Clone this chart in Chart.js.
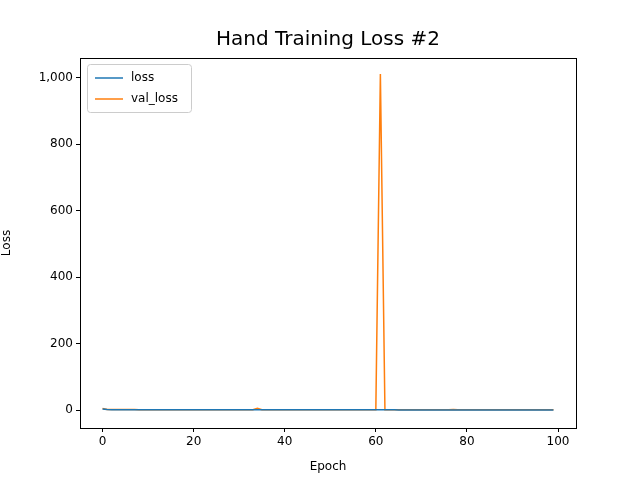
<!DOCTYPE html>
<html>
<head>
<meta charset="utf-8">
<script src="https://cdn.jsdelivr.net/npm/chart.js@4"></script>
<style>
  body { margin: 0; background: #fff; }
  #wrap { width: 640px; height: 480px; }
</style>
</head>
<body>
<div id="wrap"><canvas id="lossChart" width="640" height="480"></canvas></div>
<script>
// Epochs 0..99
const epochs = [
  0,1,2,3,4,5,6,7,8,9,10,11,12,13,14,15,16,17,18,19,
  20,21,22,23,24,25,26,27,28,29,30,31,32,33,34,35,36,37,38,39,
  40,41,42,43,44,45,46,47,48,49,50,51,52,53,54,55,56,57,58,59,
  60,61,62,63,64,65,66,67,68,69,70,71,72,73,74,75,76,77,78,79,
  80,81,82,83,84,85,86,87,88,89,90,91,92,93,94,95,96,97,98,99
];

const loss = [
  3.2,1.6,1.3,1.2,1.1,1.1,1.0,1.0,1.0,0.9,0.9,0.9,0.9,0.9,0.8,0.8,0.8,0.8,0.8,0.8,
  0.8,0.8,0.7,0.7,0.7,0.7,0.7,0.7,0.7,0.7,0.7,0.7,0.7,0.7,0.8,0.7,0.7,0.7,0.6,0.6,
  0.6,0.6,0.6,0.6,0.6,0.6,0.6,0.6,0.6,0.6,0.6,0.6,0.6,0.6,0.6,0.6,0.6,0.6,0.6,0.6,
  0.6,0.6,0.6,0.6,0.6,0.5,0.5,0.5,0.5,0.5,0.5,0.5,0.5,0.5,0.5,0.5,0.5,0.5,0.5,0.5,
  0.5,0.5,0.5,0.5,0.5,0.5,0.5,0.5,0.5,0.5,0.5,0.5,0.5,0.5,0.5,0.5,0.5,0.5,0.5,0.5
];

const valLoss = [
  4.5,2.0,1.8,1.6,1.5,1.5,1.4,1.4,1.3,1.3,1.3,1.2,1.3,1.2,1.2,1.2,1.1,1.2,1.1,1.1,
  1.1,1.1,1.1,1.0,1.1,1.0,1.0,1.0,1.0,1.0,1.0,1.0,1.1,1.0,5.0,1.2,1.0,1.0,1.0,0.9,
  0.9,0.9,0.9,0.9,0.9,0.9,0.9,0.9,0.9,0.9,0.9,0.9,0.9,0.9,0.9,0.9,0.9,0.9,0.9,0.9,
  0.9,1012,0.9,0.9,0.9,0.9,0.9,0.9,0.9,0.9,0.9,0.9,0.9,0.9,0.9,0.9,0.9,1.4,0.9,0.9,
  0.9,0.9,0.9,0.9,0.9,0.9,0.9,0.9,0.9,0.9,0.9,0.9,0.9,0.9,0.9,0.9,0.9,0.9,0.9,0.9
];

const yTicks = [0, 200, 400, 600, 800, 1000];
const xTicks = [0, 20, 40, 60, 80, 100];

const font = { family: "DejaVu Sans", size: 12 };

// frame + title + legend drawn like matplotlib
const decor = {
  id: "decor",
  afterDraw(chart) {
    const { ctx, chartArea: a } = chart;
    ctx.save();
    ctx.strokeStyle = "#000";
    ctx.lineWidth = 1;
    ctx.strokeRect(a.left + 0.5, a.top + 0.5, a.right - a.left, a.bottom - a.top);

    ctx.fillStyle = "#000";
    ctx.font = "20px 'DejaVu Sans'";
    ctx.textAlign = "center";
    ctx.textBaseline = "middle";
    ctx.fillText("Hand Training Loss #2", (a.left + a.right) / 2, 40);

    // legend box
    const lx = a.left + 7, ly = a.top + 6;
    ctx.fillStyle = "rgba(255,255,255,0.8)";
    ctx.strokeStyle = "#ccc";
    ctx.beginPath();
    ctx.roundRect(lx + 0.5, ly + 0.5, 104, 48, 3);
    ctx.fill();
    ctx.stroke();
    ctx.font = "12px 'DejaVu Sans'";
    ctx.textAlign = "left";
    chart.data.datasets.forEach((ds, i) => {
      const y = ly + 14 + i * 21;
      ctx.strokeStyle = ds.borderColor;
      ctx.lineWidth = 1.5;
      ctx.beginPath();
      ctx.moveTo(lx + 8, y);
      ctx.lineTo(lx + 36, y);
      ctx.stroke();
      ctx.fillStyle = "#000";
      ctx.fillText(ds.label, lx + 44, y);
    });
    ctx.restore();
  }
};

new Chart(document.getElementById("lossChart"), {
  type: "line",
  data: {
    datasets: [
      {
        label: "loss",
        data: epochs.map((e, i) => ({ x: e, y: loss[i] })),
        borderColor: "#1f77b4",
        borderWidth: 1.5,
        pointRadius: 0,
        tension: 0
      },
      {
        label: "val_loss",
        data: epochs.map((e, i) => ({ x: e, y: valLoss[i] })),
        borderColor: "#ff7f0e",
        borderWidth: 1.5,
        pointRadius: 0,
        tension: 0
      }
    ]
  },
  options: {
    responsive: false,
    animation: false,
    layout: { padding: { top: 58, right: 64, bottom: 6, left: 0 } },
    plugins: { legend: { display: false }, title: { display: false }, tooltip: { enabled: false } },
    scales: {
      x: {
        type: "linear",
        min: -4.95,
        max: 103.95,
        afterBuildTicks: s => { s.ticks = xTicks.map(v => ({ value: v })); },
        afterFit: s => { s.height = 46; },
        grid: { drawOnChartArea: false, tickLength: 4, color: "#000" },
        border: { display: false },
        ticks: { color: "#000", font, padding: 3 },
        title: { display: true, text: "Epoch", color: "#000", font, padding: { top: 2, bottom: 0 } }
      },
      y: {
        min: -54,
        max: 1060,
        afterBuildTicks: s => { s.ticks = yTicks.map(v => ({ value: v })); },
        afterFit: s => { s.width = 80; },
        grid: { drawOnChartArea: false, tickLength: 4, color: "#000" },
        border: { display: false },
        ticks: { color: "#000", font, padding: 3 },
        title: { display: true, text: "Loss", color: "#000", font, padding: { top: 0, bottom: 2 } }
      }
    }
  },
  plugins: [decor]
});
</script>
</body>
</html>
